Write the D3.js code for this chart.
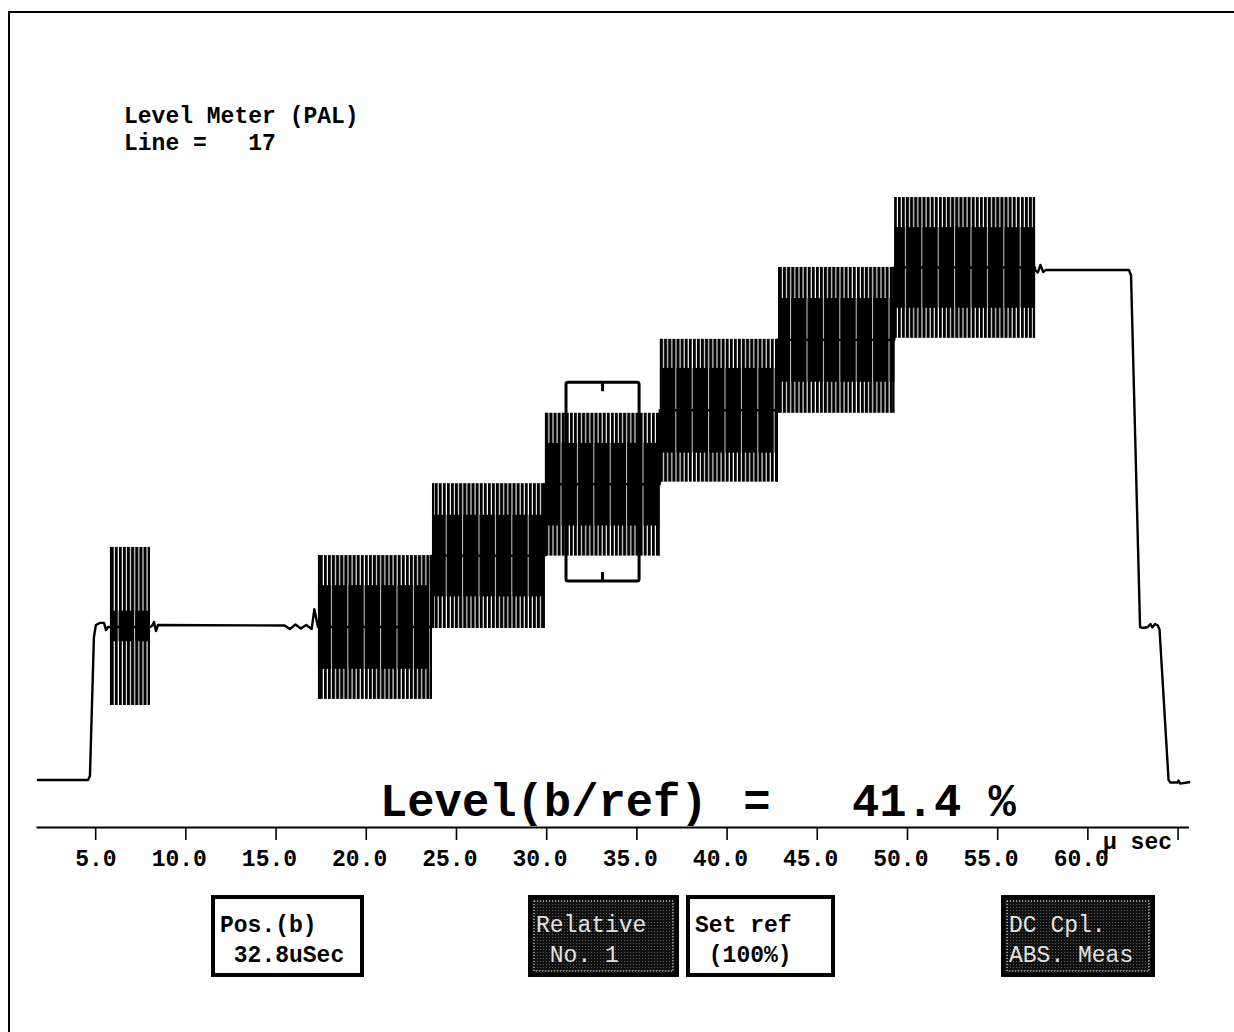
<!DOCTYPE html>
<html>
<head>
<meta charset="utf-8">
<script src="https://cdn.jsdelivr.net/npm/d3@7"></script>
<style>
  html, body { margin: 0; padding: 0; background: #fff; }
  svg { display: block; }
</style>
</head>
<body>
<svg id="chart" width="1234" height="1032"></svg>
<script>
// Level Meter (PAL), line 17: modulated luminance staircase.
// Time in µs, levels in % of white level.

// Luminance before the staircase (blanking, rise, back porch, burst, porch).
const leadTime  = [1.77, 4.60, 4.71, 4.93, 5.04, 5.27, 5.49, 5.60, 5.71, 8.04, 8.15, 8.26, 8.37, 8.48,
                   15.5, 15.8, 16.1, 16.4, 16.7, 17.0, 17.15, 17.35];
const leadLevel = [0, 0, 0.8, 28, 30.4, 30.8, 30.8, 29.4, 30.0, 30.0, 30.2, 31.0, 29.2, 30.4,
                   30.3, 29.6, 30.5, 29.7, 30.4, 29.6, 33.5, 30.0];

// Colour burst envelope.
const burstSpan  = [5.82, 8.04];
const burstLevel = 30.2;
const burstInner = 3.0;
const burstPeak  = 15.5;

// Staircase steps carrying the subcarrier.
const stepStart = [17.35, 23.67, 29.93, 36.30, 42.85, 49.30];
const stepEnd   = [23.67, 29.93, 36.30, 42.85, 49.30, 57.10];
const stepLevel = [30.0, 44.0, 58.0, 72.5, 86.3, 100.5];
const stepInner = [8.2, 8.0, 8.1, 8.3, 8.2, 7.9];
const stepPeak  = [14.1, 14.2, 14.0, 14.0, 14.3, 13.8];

// White bar and falling edges after the staircase.
const tailTime  = [57.10, 57.25, 57.40, 57.55, 57.70, 62.30, 62.42, 62.92, 63.10, 63.35, 63.50,
                   63.60, 63.75, 63.90, 64.00, 64.50, 64.60, 65.00, 65.05, 65.15, 65.70];
const tailLevel = [100, 99.5, 101, 99.6, 100, 100, 99, 30, 29.8, 30, 30.6,
                   29.9, 30.6, 30.3, 29.5, 0, -0.5, -0.5, -0.1, -0.7, -0.4];

// Measurement window (b): position and gate extent around it.
const markerPos    = 32.8;
const markerLead   = 1.7;
const markerLag    = 2.35;
const markerTop    = 78.0;
const markerBottom = 39.0;

// Axis ticks.
const tickValues = [5, 10, 15, 20, 25, 30, 35, 40, 45, 50, 55, 60, 65];
const tickLabels = ["5.0", "10.0", "15.0", "20.0", "25.0", "30.0", "35.0", "40.0",
                    "45.0", "50.0", "55.0", "60.0", ""];
const unitLabel  = "\u00b5 sec";

// Readouts and soft keys.
const titleLines   = ["Level Meter (PAL)", "Line =   17"];
const levelRatio   = 41.4;
const softKeys     = [["Pos.(b)", " 32.8uSec"], ["Relative", " No. 1"], ["Set ref", " (100%)"], ["DC Cpl.", "ABS. Meas"]];
const softKeyDark  = [false, true, false, true];

// ---------------------------------------------------------------------------
const FONT = "'Liberation Mono', 'Courier New', monospace";
const svg = d3.select("#chart");

const x = d3.scaleLinear().domain([1.72, 65.6]).range([36.0, 1188.4]);
const y = d3.scaleLinear().domain([0, 100]).range([780, 270]);

const defs = svg.append("defs");

// Subcarrier comb: narrow vertical strokes.
const comb = defs.append("pattern").attr("id", "comb")
  .attr("patternUnits", "userSpaceOnUse").attr("width", 4.1).attr("height", 10);
comb.append("rect").attr("x", 0).attr("y", 0).attr("width", 3.0).attr("height", 10).attr("fill", "#000");

// Dense core of the modulation with occasional light gaps.
const core = defs.append("pattern").attr("id", "core")
  .attr("patternUnits", "userSpaceOnUse").attr("width", 16.4).attr("height", 10);
core.append("rect").attr("width", 16.4).attr("height", 10).attr("fill", "#000");
core.append("rect").attr("x", 3.1).attr("width", 0.8).attr("height", 10).attr("fill", "#fff");

// Stipple for highlighted soft keys.
const stip = defs.append("pattern").attr("id", "stipple")
  .attr("patternUnits", "userSpaceOnUse").attr("width", 3).attr("height", 3);
stip.append("rect").attr("width", 3).attr("height", 3).attr("fill", "#111");
stip.append("rect").attr("x", 1).attr("y", 1).attr("width", 1).attr("height", 1).attr("fill", "#5a5a5a");

svg.append("rect").attr("width", 1234).attr("height", 1032).attr("fill", "#fff");

// Screen frame.
svg.append("path")
  .attr("d", "M9,1032 V12 H1234")
  .attr("fill", "none").attr("stroke", "#000").attr("stroke-width", 2);

// Title block.
svg.append("g").selectAll("text").data(titleLines).join("text")
  .attr("x", 124).attr("y", (d, i) => 123 + i * 27)
  .attr("xml:space", "preserve")
  .attr("font-family", FONT).attr("font-size", 23).attr("font-weight", "bold")
  .attr("fill", "#000")
  .text(d => d);

// Measurement window.
const gateL = x(markerPos - markerLead), gateR = x(markerPos + markerLag);
const gateMid = (gateL + gateR) / 2;
const mg = svg.append("g");
mg.append("rect")
  .attr("x", gateL).attr("y", y(markerTop))
  .attr("width", gateR - gateL)
  .attr("height", y(markerBottom) - y(markerTop))
  .attr("rx", 2)
  .attr("fill", "none").attr("stroke", "#000").attr("stroke-width", 3);
mg.append("line")
  .attr("x1", gateMid).attr("x2", gateMid)
  .attr("y1", y(markerTop)).attr("y2", y(markerTop) + 9)
  .attr("stroke", "#000").attr("stroke-width", 3);
mg.append("line")
  .attr("x1", gateMid).attr("x2", gateMid)
  .attr("y1", y(markerBottom)).attr("y2", y(markerBottom) - 9)
  .attr("stroke", "#000").attr("stroke-width", 3);

// Modulated segments: burst + staircase steps.
const segments = [{ t0: burstSpan[0], t1: burstSpan[1], lv: burstLevel, inner: burstInner, peak: burstPeak }]
  .concat(stepStart.map((s, i) => ({ t0: s, t1: stepEnd[i], lv: stepLevel[i], inner: stepInner[i], peak: stepPeak[i] })));

const sg = svg.append("g");
sg.selectAll("rect.peak").data(segments).join("rect").attr("class", "peak")
  .attr("x", d => x(d.t0)).attr("width", d => x(d.t1) - x(d.t0))
  .attr("y", d => y(d.lv + d.peak)).attr("height", d => y(d.lv - d.peak) - y(d.lv + d.peak))
  .attr("fill", "url(#comb)");
sg.selectAll("rect.core").data(segments).join("rect").attr("class", "core")
  .attr("x", d => x(d.t0)).attr("width", d => x(d.t1) - x(d.t0))
  .attr("y", d => y(d.lv + d.inner)).attr("height", d => y(d.lv - d.inner) - y(d.lv + d.inner))
  .attr("fill", "url(#core)");
// Edge strokes bounding each modulated segment.
sg.selectAll("line.edge").data(segments).join("line").attr("class", "edge")
  .attr("x1", d => x(d.t0) + 1).attr("x2", d => x(d.t0) + 1)
  .attr("y1", d => y(d.lv + d.peak)).attr("y2", d => y(d.lv - d.peak))
  .attr("stroke", "#000").attr("stroke-width", 2);
sg.selectAll("line.edgeR").data(segments).join("line").attr("class", "edgeR")
  .attr("x1", d => x(d.t1) - 1).attr("x2", d => x(d.t1) - 1)
  .attr("y1", d => y(d.lv + d.peak)).attr("y2", d => y(d.lv - d.peak))
  .attr("stroke", "#000").attr("stroke-width", 2);

// Luminance trace.
const trace = leadTime.map((t, i) => [t, leadLevel[i]]);
stepStart.forEach((s, i) => { trace.push([s, stepLevel[i]]); trace.push([stepEnd[i], stepLevel[i]]); });
tailTime.forEach((t, i) => trace.push([t, tailLevel[i]]));

svg.append("path")
  .datum(trace)
  .attr("d", d3.line().x(d => x(d[0])).y(d => y(d[1])))
  .attr("fill", "none").attr("stroke", "#000").attr("stroke-width", 2.4)
  .attr("stroke-linejoin", "round");

// Readout.
const ro = svg.append("g").attr("font-family", FONT).attr("font-size", 45.5).attr("font-weight", "bold").attr("fill", "#000");
ro.append("text").attr("x", 380).attr("y", 816).text("Level(b/ref)");
ro.append("text").attr("x", 757).attr("y", 816).attr("text-anchor", "middle").text("=");
ro.append("text").attr("x", 852).attr("y", 816).attr("xml:space", "preserve").text(d3.format(".1f")(levelRatio) + " %");

// Time axis.
const xAxis = d3.axisBottom(x)
  .tickValues(tickValues)
  .tickSize(13)
  .tickSizeOuter(0)
  .tickFormat((d, i) => tickLabels[i]);

const gx = svg.append("g").attr("transform", "translate(0,827)").call(xAxis)
  .attr("font-family", FONT).attr("font-size", 23).attr("font-weight", "bold");
gx.select(".domain").attr("stroke", "#000").attr("stroke-width", 2);
gx.selectAll(".tick line").attr("stroke", "#000").attr("stroke-width", 1.6);
gx.selectAll(".tick text")
  .attr("fill", "#000").attr("text-anchor", "end")
  .attr("x", 21).attr("y", 39).attr("dy", null);

gx.append("text")
  .attr("x", 1172).attr("y", 22).attr("text-anchor", "end")
  .attr("fill", "#000").attr("xml:space", "preserve")
  .text(unitLabel);

// Soft keys.
const keyX = [213, 530, 688, 1003];
const keyW = [149, 147, 145, 150];
const keyY = 897, keyH = 78;
const kg = svg.append("g").attr("font-family", FONT).attr("font-size", 23);
softKeys.forEach((lines, i) => {
  const dark = softKeyDark[i];
  const g = kg.append("g").attr("transform", `translate(${keyX[i]},${keyY})`);
  g.append("rect").attr("x", 0).attr("y", 0).attr("width", keyW[i]).attr("height", keyH)
    .attr("fill", dark ? "url(#stipple)" : "#fff")
    .attr("stroke", "#000").attr("stroke-width", 4);
  if (dark) {
    g.append("rect").attr("x", 4).attr("y", 4).attr("width", keyW[i] - 8).attr("height", keyH - 8)
      .attr("fill", "none").attr("stroke", "#e6e6e6").attr("stroke-width", 1)
      .attr("stroke-dasharray", "1.2,1.8");
  }
  g.selectAll("text").data(lines).join("text")
    .attr("x", dark ? 6 : 7).attr("y", (d, j) => 35 + j * 30)
    .attr("xml:space", "preserve")
    .attr("font-weight", dark ? "normal" : "bold")
    .attr("fill", dark ? "#e2e2e2" : "#000")
    .text(d => d);
});
</script>
</body>
</html>
